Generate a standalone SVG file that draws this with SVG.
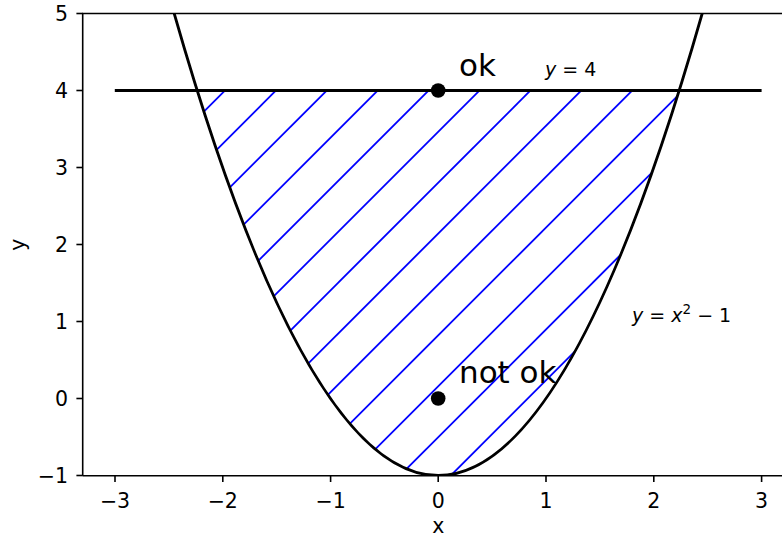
<svg xmlns="http://www.w3.org/2000/svg" width="782" height="537" viewBox="0 0 782 537">
<style>
text{font-family:"DejaVu Sans","Liberation Sans",sans-serif;fill:#000}
.tk{font-size:20.5px}
.yt{text-anchor:end}
.xt{text-anchor:middle}
.hatch{stroke:#0000ff;stroke-width:1.8;fill:none}
.spine{stroke:#000;stroke-width:1.6;fill:none}
.tick{stroke:#000;stroke-width:1.6}
.curve{stroke:#000;stroke-width:2.8;fill:none}
.pt{fill:#000}
.big{font-size:31px}
.math{font-size:19px}
</style>
<defs>
<clipPath id="axclip"><rect x="82.7" y="13.5" width="720" height="462"/></clipPath>
<clipPath id="regionclip"><path d="M197.2,90.5 Q438.2,860.5 679.2,90.5 Z"/></clipPath>
</defs>
<rect width="782" height="537" fill="#fff"/>

<g id="hatch-region" clip-path="url(#regionclip)">
<line class="hatch" x1="-184.5" y1="500" x2="315.5" y2="0"/>
<line class="hatch" x1="-133.6" y1="500" x2="366.4" y2="0"/>
<line class="hatch" x1="-82.7" y1="500" x2="417.3" y2="0"/>
<line class="hatch" x1="-31.8" y1="500" x2="468.2" y2="0"/>
<line class="hatch" x1="19.1" y1="500" x2="519.1" y2="0"/>
<line class="hatch" x1="70.0" y1="500" x2="570.0" y2="0"/>
<line class="hatch" x1="120.9" y1="500" x2="620.9" y2="0"/>
<line class="hatch" x1="171.8" y1="500" x2="671.8" y2="0"/>
<line class="hatch" x1="222.7" y1="500" x2="722.7" y2="0"/>
<line class="hatch" x1="273.6" y1="500" x2="773.6" y2="0"/>
<line class="hatch" x1="324.5" y1="500" x2="824.5" y2="0"/>
<line class="hatch" x1="375.4" y1="500" x2="875.4" y2="0"/>
<line class="hatch" x1="426.3" y1="500" x2="926.3" y2="0"/>
</g>

<g id="connectors" clip-path="url(#axclip)">
<path id="parabola" class="curve" d="M174.2,13.5 Q438.2,937.5 702.2,13.5"/>
<line id="line-y4" class="curve" x1="114.8" y1="90.5" x2="761.6" y2="90.5"/>
</g>

<g id="point-ok">
<circle class="pt" cx="438.2" cy="90.5" r="7.3"/>
<text class="big" x="459" y="75.5">ok</text>
</g>
<g id="point-notok">
<circle class="pt" cx="438.2" cy="398.5" r="7.3"/>
<text class="big" x="459" y="383">not ok</text>
</g>

<g id="label-y4">
<text class="math" x="545" y="76"><tspan font-style="italic">y</tspan> = 4</text>
</g>
<g id="label-parabola">
<text class="math" x="632" y="321.5"><tspan font-style="italic">y</tspan> = <tspan font-style="italic">x</tspan><tspan dy="-8" style="font-size:13.5px">2</tspan><tspan dy="8"> − 1</tspan></text>
</g>

<g id="axes">
<path class="spine" d="M82.7,475.7 V13.5 H782"/>
<path class="spine" d="M82.7,475.7 H782"/>
<g id="xticks">
<line class="tick" x1="115" y1="475.7" x2="115" y2="482"/>
<line class="tick" x1="222.8" y1="475.7" x2="222.8" y2="482"/>
<line class="tick" x1="330.6" y1="475.7" x2="330.6" y2="482"/>
<line class="tick" x1="438.2" y1="475.7" x2="438.2" y2="482"/>
<line class="tick" x1="546" y1="475.7" x2="546" y2="482"/>
<line class="tick" x1="653.8" y1="475.7" x2="653.8" y2="482"/>
<line class="tick" x1="761.6" y1="475.7" x2="761.6" y2="482"/>
<text class="tk xt" x="115" y="507.5">−3</text>
<text class="tk xt" x="222.8" y="507.5">−2</text>
<text class="tk xt" x="330.6" y="507.5">−1</text>
<text class="tk xt" x="438.2" y="507.5">0</text>
<text class="tk xt" x="546" y="507.5">1</text>
<text class="tk xt" x="653.8" y="507.5">2</text>
<text class="tk xt" x="761.6" y="507.5">3</text>
</g>
<g id="yticks">
<line class="tick" x1="76.4" y1="13.5" x2="82.7" y2="13.5"/>
<line class="tick" x1="76.4" y1="90.5" x2="82.7" y2="90.5"/>
<line class="tick" x1="76.4" y1="167.5" x2="82.7" y2="167.5"/>
<line class="tick" x1="76.4" y1="244.5" x2="82.7" y2="244.5"/>
<line class="tick" x1="76.4" y1="321.5" x2="82.7" y2="321.5"/>
<line class="tick" x1="76.4" y1="398.5" x2="82.7" y2="398.5"/>
<line class="tick" x1="76.4" y1="475.5" x2="82.7" y2="475.5"/>
<text class="tk yt" x="68" y="21">5</text>
<text class="tk yt" x="68" y="98">4</text>
<text class="tk yt" x="68" y="175">3</text>
<text class="tk yt" x="68" y="252">2</text>
<text class="tk yt" x="68" y="329">1</text>
<text class="tk yt" x="68" y="406">0</text>
<text class="tk yt" x="68" y="483">−1</text>
</g>
<text class="tk xt" x="438.2" y="532.5">x</text>
<text class="tk xt" transform="translate(25,244.6) rotate(-90)">y</text>
</g>
</svg>
